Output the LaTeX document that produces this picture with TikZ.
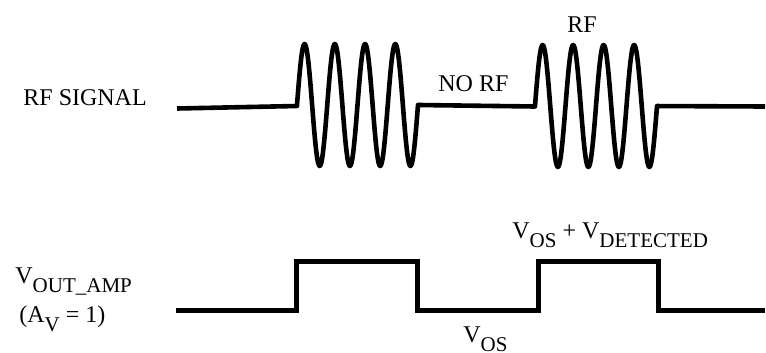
\documentclass[tikz,border=0pt]{standalone}
\usepackage{fontspec}
\setmainfont{Liberation Serif}
\usepackage{tikz}
\newcommand{\lowsub}[1]{\raisebox{-4.5pt}{\fontsize{10.5}{10.5}\selectfont #1}}

\begin{document}
\begin{tikzpicture}[x=0.5pt, y=-0.5pt,
    wave/.style={line width=2.3pt, line join=round},
    level/.style={line width=2.5pt, line join=miter},
    lbl/.style={anchor=base west, inner sep=0pt, font=\fontsize{12}{14}\selectfont}]
  \useasboundingbox (0,0) rectangle (766,353);

  % RF input with two bursts
  \draw[wave] (177,108.5) -- (297,106)
    -- plot[domain=297:418, samples=161, smooth] (\x, {105-61*sin((\x-297)*11.901)})
    -- (535,106.5)
    -- plot[domain=535:657, samples=161, smooth] (\x, {106-61*sin((\x-535)*11.803)})
    -- (765,106.5);

  % amplifier output
  \draw[level] (176,310) -- (296,310) -- (296,261) -- (417,261) -- (417,310)
    -- (538,310) -- (538,261) -- (658,261) -- (658,310) -- (765,310);

  \node[lbl] (rfsig) at (23,105) {RF SIGNAL};
  \node[lbl] (norf) at (438,92) {NO RF};
  \node[lbl] (rfon) at (567,33) {RF};
  \node[lbl] (voutamp) at (15,283) {V\lowsub{OUT\_AMP}};
  \node[lbl] (gain) at (19,322) {(A\lowsub{V} = 1)};
  \node[lbl] (vdet) at (512,238) {V\lowsub{OS} + V\lowsub{DETECTED}};
  \node[lbl] (vos) at (463,342) {V\lowsub{OS}};
\end{tikzpicture}
\end{document}
